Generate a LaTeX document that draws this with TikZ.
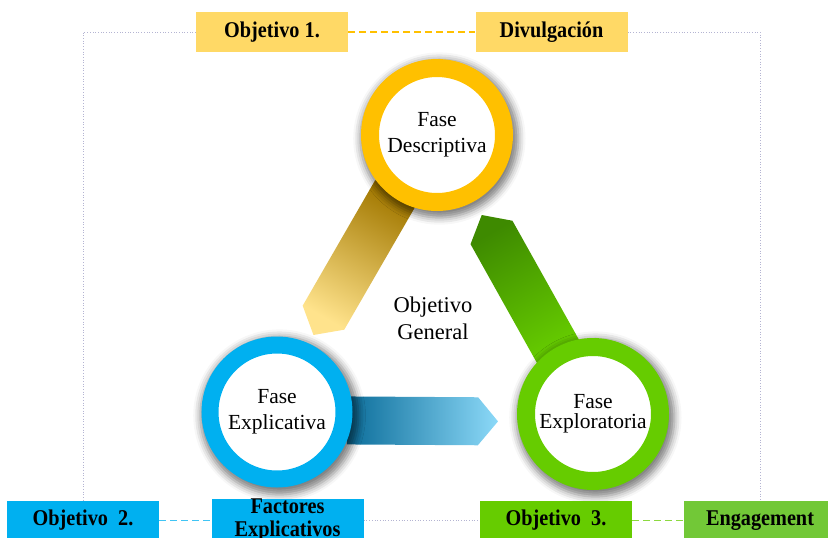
\documentclass[tikz,border=0pt]{standalone}
\usepackage{fontspec}
\setmainfont{Liberation Serif}
\newfontfamily\boxfont{Liberation Serif}[FakeStretch=0.9]
\usetikzlibrary{calc,backgrounds,shadows.blur}
\definecolor{gold}{HTML}{FFC000}
\definecolor{goldbox}{HTML}{FFD966}
\definecolor{golddark}{HTML}{A27800}
\definecolor{goldlight}{HTML}{FFE38C}
\definecolor{sky}{HTML}{00B0F0}
\definecolor{skydark}{HTML}{0B6D9A}
\definecolor{skylight}{HTML}{8CD9F8}
\definecolor{leaf}{HTML}{66CC00}
\definecolor{leafbox}{HTML}{72C837}
\definecolor{leafdark}{HTML}{3E8A00}
\definecolor{framegray}{HTML}{B4B4D2}

\tikzset{
  objbox/.style={fill=#1, minimum width=152pt, minimum height=40pt, inner sep=0pt,
    align=center, font=\boxfont\bfseries\fontsize{22.5}{23}\selectfont},
  fase/.style={circle, draw=#1, line width=18pt, fill=white, minimum size=134pt,
    inner sep=0pt, align=center, font=\fontsize{21.5}{26}\selectfont,
    blur shadow={shadow xshift=2pt, shadow yshift=-3pt, shadow scale=1.18,
      shadow blur radius=6pt, shadow opacity=50}},
  linkline/.style={draw=#1, line width=1.8pt, dash pattern=on 7pt off 4pt},
  frameline/.style={draw=framegray, line width=0.7pt, dotted}
}

\begin{document}
\begin{tikzpicture}[x=1pt,y=-1pt]
\useasboundingbox (0,0) rectangle (828,538);
\clip (0,0) rectangle (828,538);
% phases
\node[fase=gold] (desc) at (437,135) {Fase\\Descriptiva};
\node[fase=sky, line width=17pt] (expl) at (277,412) {Fase\\Explicativa};
\node[fase=leaf, font=\fontsize{21.5}{20}\selectfont] (explo) at (593,414) {Fase\\Exploratoria};
\node[align=center, font=\fontsize{22.5}{27}\selectfont] (gen) at (433,318) {Objetivo\\General};
% objectives
\node[objbox=goldbox] (obj1) at (272,32) {Objetivo 1.};
\node[objbox=goldbox] (divul) at (551.5,32) {Divulgación};
\node[objbox=sky] (obj2) at (83,520.5) {Objetivo~~2.};
\node[objbox=sky] (fact) at (287.5,520.5) {Factores\\Explicativos};
\node[objbox=leaf] (obj3) at (556,520.5) {Objetivo~~3.};
\node[objbox=leafbox] (engage) at (760,520.5) {Engagement};
\begin{pgfonlayer}{background}
\draw[frameline] (obj1.west) -| (obj2.north);
\draw[frameline] (divul.east) -| (engage.north);
\draw[frameline] (fact.east) -- (obj3.west);
\draw[linkline=gold] (obj1) -- (divul);
\draw[linkline=sky!75] (obj2) -- (fact);
\draw[linkline=leaf!75] (obj3) -- (engage);
% arrows between phases
\shade[top color=golddark, middle color=gold, bottom color=goldlight, shading angle=-30,
  transform canvas={xshift=-6pt, yshift=3.5pt}]
  ($(desc)!70pt!(expl)!24pt!90:(expl)$) -- ($(desc)!215pt!(expl)!24pt!90:(expl)$)
  -- ($(desc)!235pt!(expl)$) -- ($(desc)!215pt!(expl)!24pt!-90:(expl)$)
  -- ($(desc)!70pt!(expl)!24pt!-90:(expl)$) -- cycle;
\shade[top color=skydark, middle color=sky!90, bottom color=skylight, shading angle=90,
  transform canvas={yshift=-8pt}]
  ($(expl)!70pt!(explo)!24pt!90:(explo)$) -- ($(expl)!201pt!(explo)!24pt!90:(explo)$)
  -- ($(expl)!221pt!(explo)$) -- ($(expl)!201pt!(explo)!24pt!-90:(explo)$)
  -- ($(expl)!70pt!(explo)!24pt!-90:(explo)$) -- cycle;
\shade[top color=leaf, bottom color=leafdark, shading angle=-150]
  ($(explo)!70pt!(desc)!24pt!90:(desc)$) -- ($(explo)!208pt!(desc)!24pt!90:(desc)$)
  -- ($(explo)!228pt!(desc)$) -- ($(explo)!208pt!(desc)!24pt!-90:(desc)$)
  -- ($(explo)!70pt!(desc)!24pt!-90:(desc)$) -- cycle;
\end{pgfonlayer}
\end{tikzpicture}
\end{document}
